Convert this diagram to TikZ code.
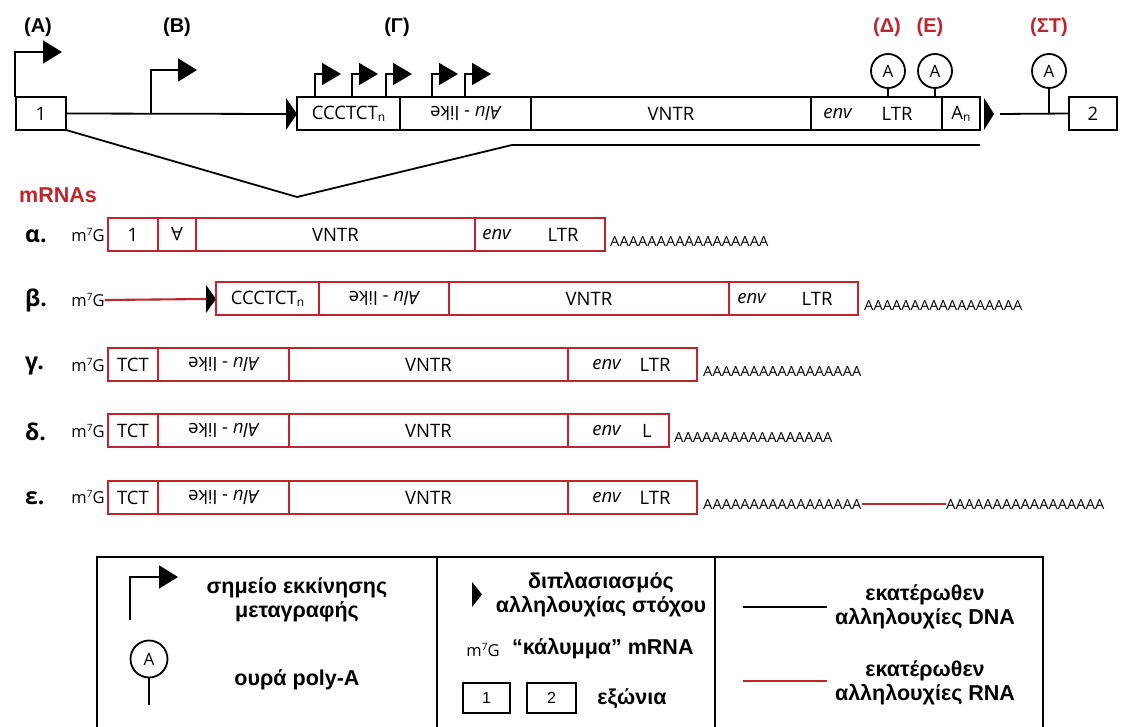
\documentclass[tikz,border=0pt]{standalone}
\usepackage{fontspec}
\setmainfont{Open Sans}
\newfontfamily\arialf{Liberation Sans}
\usetikzlibrary{arrows.meta}
\definecolor{rnared}{RGB}{192,36,44}
% subscript n and cap superscript
\newcommand\subn{\raisebox{-2pt}{\fontsize{12}{12}\selectfont n}}
\newcommand\capG{m\raisebox{5.5pt}{\fontsize{10}{10}\selectfont 7}G}
\newcommand\polyA{\scalebox{1.05}[1]{AAAAAAAAAAAAAAAAA}}
\newcommand\alu{\textit{Alu} - like}
% segment of a box: name, x-left, x-right, y-top, style, text
\newcommand\seg[6]{\node[segbox,#5,minimum width={#3-#2},anchor=north west] (#1) at (#2,#4) {#6};}
\begin{document}
\begin{tikzpicture}[x=1pt,y=-1pt,
  segbox/.style={minimum height=33pt,inner sep=0pt,outer sep=0pt,font=\fontsize{18.5}{18.5}\selectfont},
  dna/.style={draw=black,line width=1.8pt},
  rna/.style={draw=rnared,line width=2.1pt},
  txt/.style={inner sep=0pt,font=\fontsize{18.5}{18.5}\selectfont},
  captxt/.style={inner sep=0pt,font=\fontsize{16.5}{16.5}\selectfont},
  tail/.style={inner sep=0pt,anchor=west,font=\fontsize{14}{14}\selectfont},
  row/.style={inner sep=0pt,anchor=west,font=\fontsize{23}{23}\selectfont\bfseries},
  site/.style={inner sep=0pt,font=\fontsize{20}{20}\selectfont\arialf\bfseries},
  redsite/.style={site,text=rnared},
  polya/.style={circle,draw,line width=1.8pt,minimum size=34pt,inner sep=0pt,font=\fontsize{17}{17}\selectfont},
  tss/.style={line width=1.8pt,-{Triangle[length=19pt,width=23pt]}},
  leg/.style={inner sep=0pt,align=center,font=\fontsize{21.5}{24}\selectfont\arialf\bfseries},
  tip/.style={fill=black},
  wire/.style={line width=1.8pt},
]
\useasboundingbox (0,0) rectangle (1121,727);

% ---------- genomic locus ----------
\node[site] (lA) at (38,27) {(A)};
\node[site] (lB) at (177,27) {(B)};
\node[site] (lG) at (397,27) {(Γ)};
\node[redsite] (lD) at (887,27) {(Δ)};
\node[redsite] (lE) at (930,27) {(Ε)};
\node[redsite] (lST) at (1049,27) {(ΣΤ)};

\seg{ex1}{16}{66}{97}{dna}{1}
\seg{ex2}{1069}{1117}{97}{dna}{2}

\seg{g1}{297}{400}{97}{dna}{CCCTCT\subn}
\seg{g2}{400}{531}{97}{dna}{}
\seg{g3}{531}{811}{97}{dna}{VNTR}
\seg{g4}{811}{942}{97}{dna}{}
\seg{g5}{942}{980}{97}{dna}{A\subn}
\node[txt,rotate=180] (g2t) at (g2) {\alu};
\node[txt] (g4a) at (838,113.5) {\textit{env}};
\node[txt] (g4b) at (897,113.5) {LTR};

% flanking DNA and duplicated target sites
\coordinate (t1) at (286,114);
\coordinate (t2) at (984,114);
\fill[tip] (286,98) -- (297,114) -- (286,130) -- cycle;
\fill[tip] (984,98) -- (994,114) -- (984,130) -- cycle;
\draw[wire] (ex1.east) -- (t1);
\draw[wire] (1000,114) -- (ex2.west);

% splice of exon 1
\coordinate (vbot) at (297,197);
\coordinate (vtop) at (512,145);
\draw[wire] (ex1.south east) -- (vbot) -- (vtop) -- (vtop -| g5.east);

% transcription start sites
\draw[tss] (15,97) |- (62,52);
\draw[tss] (151,114) |- (197,70);
\foreach \x in {315,352,386,432,465}
  \draw[tss,-{Triangle[length=19pt,width=22pt]}] (\x,97) |- (\x+26,74);

% poly-A signals
\node[polya] (pD) at (888,71) {A};
\node[polya] (pE) at (935,71) {A};
\node[polya] (pST) at (1049,71) {A};
\draw[wire] (pD.south) -- (pD.south |- g4.north);
\draw[wire] (pE.south) -- (pE.south |- g4.north);
\draw[wire] (pST.south) -- (pST.south |- ex2.west);

% ---------- transcripts ----------
\node[inner sep=0pt,text=rnared,font=\fontsize{21.5}{21.5}\selectfont\arialf\bfseries] (mr) at (58,195) {mRNAs};

% alpha
\node[row] (ra) at (25,236) {α.};
\node[captxt] (ca) at (88,235) {\capG};
\seg{a1}{108}{158}{218}{rna}{1}
\seg{a2}{158}{196}{218}{rna}{}
\node[txt,rotate=180] (a2t) at (a2) {A};
\seg{a3}{196}{475}{218}{rna}{VNTR}
\seg{a4}{475}{605}{218}{rna}{}
\node[txt] (a4a) at (497,234.5) {\textit{env}};
\node[txt] (a4b) at (563,234.5) {LTR};
\node[tail] (aA) at (610,241) {\polyA};

% beta
\node[row] (rb) at (25,300) {β.};
\node[captxt] (cb) at (88,300) {\capG};
\fill[tip] (206,285) -- (216,299) -- (206,313) -- cycle;
\draw[rnared,line width=2.1pt] (cb.east) -- (206,299);
\seg{b1}{216}{319}{282}{rna}{CCCTCT\subn}
\seg{b2}{319}{449}{282}{rna}{}
\node[txt,rotate=180] (b2t) at (b2) {\alu};
\seg{b3}{449}{729}{282}{rna}{VNTR}
\seg{b4}{729}{858}{282}{rna}{}
\node[txt] (b4a) at (752,298.5) {\textit{env}};
\node[txt] (b4b) at (817,298.5) {LTR};
\node[tail] (bA) at (864,305) {\polyA};

% gamma
\node[row] (rg) at (25,366) {γ.};
\node[captxt] (cg) at (88,365) {\capG};
\seg{c1}{108}{158}{348}{rna}{TCT}
\seg{c2}{158}{289}{348}{rna}{}
\node[txt,rotate=180] (c2t) at (c2) {\alu};
\seg{c3}{289}{568}{348}{rna}{VNTR}
\seg{c4}{568}{697}{348}{rna}{}
\node[txt] (c4a) at (607,364.5) {\textit{env}};
\node[txt] (c4b) at (655,364.5) {LTR};
\node[tail] (cA) at (703,371) {\polyA};

% delta
\node[row] (rd) at (25,432) {δ.};
\node[captxt] (cd) at (88,431) {\capG};
\seg{d1}{108}{158}{414}{rna}{TCT}
\seg{d2}{158}{289}{414}{rna}{}
\node[txt,rotate=180] (d2t) at (d2) {\alu};
\seg{d3}{289}{568}{414}{rna}{VNTR}
\seg{d4}{568}{669}{414}{rna}{}
\node[txt] (d4a) at (607,430.5) {\textit{env}};
\node[txt] (d4b) at (647,430.5) {L};
\node[tail] (dA) at (674,437) {\polyA};

% epsilon
\node[row] (re) at (25,498) {ε.};
\node[captxt] (ce) at (88,497) {\capG};
\seg{e1}{108}{158}{481}{rna}{TCT}
\seg{e2}{158}{289}{481}{rna}{}
\node[txt,rotate=180] (e2t) at (e2) {\alu};
\seg{e3}{289}{568}{481}{rna}{VNTR}
\seg{e4}{568}{697}{481}{rna}{}
\node[txt] (e4a) at (607,497.5) {\textit{env}};
\node[txt] (e4b) at (655,497.5) {LTR};
\node[tail] (eA1) at (703,504) {\polyA};
\node[tail] (eA2) at (946,504) {\polyA};
\draw[rnared,line width=2.1pt] (eA1.east) -- (eA2.west);

% ---------- legend ----------
\draw[line width=1.8pt] (97,730) -- (97,557) -- (1043,557) -- (1043,730);
\draw[line width=1.8pt] (437,557) -- (437,730);
\draw[line width=1.8pt] (715,557) -- (715,730);

\draw[tss] (130,620) |- (178,577);
\node[leg] (lg1) at (297,600) {σημείο εκκίνησης\\μεταγραφής};
\node[polya,minimum size=37pt] (lpa) at (149,659) {A};
\draw[wire] (lpa.south) -- (149,705);
\node[leg] (lg2) at (297,680) {ουρά poly-A};

\fill[tip] (472,582) -- (482,594.5) -- (472,607) -- cycle;
\node[leg] (lg3) at (601,595) {διπλασιασμός\\αλληλουχίας στόχου};
\node[captxt] (lcap) at (483,650) {\capG};
\node[leg,anchor=west] (lg4) at (512,649) {“κάλυμμα” mRNA};
\node[segbox,dna,minimum width=47pt,minimum height=30pt,font=\fontsize{16}{16}\selectfont\arialf] (lx1) at (486.5,698) {1};
\node[segbox,dna,minimum width=49pt,minimum height=30pt,font=\fontsize{16}{16}\selectfont\arialf] (lx2) at (551.5,698) {2};
\node[leg] (lg5) at (632,699) {εξώνια};

\coordinate (k1) at (743,607);
\coordinate (k2) at (827,607);
\draw[wire] (k1) -- (k2);
\node[leg] (lg6) at (925,607) {εκατέρωθεν\\αλληλουχίες DNA};
\coordinate (r1) at (743,681);
\coordinate (r2) at (827,681);
\draw[rnared,line width=2.1pt] (r1) -- (r2);
\node[leg] (lg7) at (925,683) {εκατέρωθεν\\αλληλουχίες RNA};
\end{tikzpicture}
\end{document}
